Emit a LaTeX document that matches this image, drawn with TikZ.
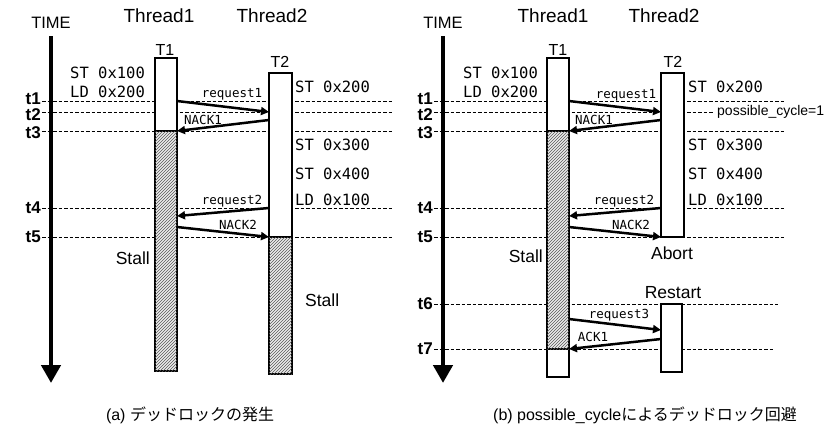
\documentclass[tikz,border=0pt]{standalone}
\usepackage{fontspec}
\setmainfont{Liberation Sans}
\setmonofont{DejaVu Sans Mono}
\newfontfamily\cjk{Noto Sans CJK JP}
\usetikzlibrary{arrows.meta,patterns,backgrounds}
\tikzset{
  tline/.style={line width=1pt, dash pattern=on 3.5pt off 2pt},
  msg/.style={line width=2.5pt, -{Triangle[length=8pt,width=8pt]}},
  lane/.style={draw, line width=1.6pt, fill=white, outer sep=0pt, inner sep=0pt},
  hatchbox/.style={draw, line width=1.6pt, fill=gray!15, postaction={pattern=north east lines, pattern color=black!65}},
  timearrow/.style={line width=4.5pt, -{Triangle[length=18pt,width=19pt]}},
  tlab/.style={anchor=east, inner sep=0pt, font=\fontsize{17}{17}\bfseries\selectfont},
  headtext/.style={inner sep=0pt, font=\fontsize{19}{19}\selectfont},
  timelab/.style={inner sep=0pt, font=\fontsize{16.5}{17}\selectfont},
  lanelab/.style={inner sep=0pt, font=\fontsize{16}{16}\selectfont},
  codetext/.style={anchor=west, inner sep=0pt, font=\fontsize{15.5}{16}\ttfamily\selectfont},
  msglab/.style={inner sep=0pt, font=\fontsize{12.5}{13}\ttfamily\selectfont},
  notetext/.style={inner sep=0pt, font=\fontsize{17.5}{18}\selectfont},
  smalltext/.style={inner sep=0pt, font=\fontsize{14}{14}\selectfont},
  captext/.style={inner sep=0pt, font=\fontsize{16}{16}\selectfont}
}
\begin{document}
\begin{tikzpicture}[x=1pt,y=-1pt]
\useasboundingbox (0,0) rectangle (832,426);

%================ panel (a) ================
\node[timelab] (aTime) at (51,22.5) {TIME};
\node[headtext] (aTh1) at (159,16) {Thread1};
\node[headtext] (aTh2) at (272,16) {Thread2};
\coordinate (aTimeTop) at (51,36);
\coordinate (aTimeBot) at (51,383);
\draw[timearrow] (aTimeTop) -- (aTimeBot);

\node[tlab] (at1) at (41,99) {t1};
\node[tlab] (at2) at (41,114.5) {t2};
\node[tlab] (at3) at (41,133) {t3};
\node[tlab] (at4) at (41,208) {t4};
\node[tlab] (at5) at (41,237) {t5};
\coordinate (aY1) at (0,101);
\coordinate (aY2) at (0,112);
\coordinate (aY3) at (0,131);
\coordinate (aY4) at (0,208);
\coordinate (aY5) at (0,237);
\coordinate (aL) at (42,0);
\coordinate (aR) at (393,0);
\foreach \y in {aY1,aY2,aY3,aY4,aY5}
  \draw[tline] (aL |- \y) -- (aR |- \y);

\node[lanelab] (aT1l) at (165,50) {T1};
\node[lanelab] (aT2l) at (280,62) {T2};
\node[lane, minimum width=22pt, minimum height=313pt] (aT1) at (166,214.5) {};
\node[lane, minimum width=23pt, minimum height=301pt] (aT2) at (280.5,223.5) {};
\draw[hatchbox] (aT1.west |- aY3) rectangle (aT1.south east);
\draw[hatchbox] (aT2.west |- aY5) rectangle (aT2.south east);

\node[codetext] (ac1) at (70,72.5) {ST 0x100};
\node[codetext] (ac2) at (70,92) {LD 0x200};
\node[codetext] (ac3) at (295,87) {ST 0x200};
\node[codetext] (ac4) at (295,145) {ST 0x300};
\node[codetext] (ac5) at (295,174) {ST 0x400};
\node[codetext] (ac6) at (295,200) {LD 0x100};

\coordinate (aN1s) at (269,120);
\coordinate (aR2e) at (177,216);
\coordinate (aN2s) at (177,227);
\draw[msg] (aT1.east |- aY1) -- (aT2.west |- aY2);
\draw[msg] (aN1s) -- (aT1.east |- aY3);
\draw[msg] (aT2.west |- aY4) -- (aR2e);
\draw[msg] (aN2s) -- (aT2.west |- aY5);
\node[msglab] (am1) at (232,94) {request1};
\node[msglab] (am2) at (203,120) {NACK1};
\node[msglab] (am3) at (232,201) {request2};
\node[msglab] (am4) at (238,225) {NACK2};

\node[notetext, anchor=east] (aSt1) at (150,258) {Stall};
\node[notetext, anchor=west] (aSt2) at (305,300) {Stall};

\node[captext] (aCap) at (190,415) {(a) {\cjk デッドロックの発生}};

%================ panel (b) ================
\node[timelab] (bTime) at (443,22.5) {TIME};
\node[headtext] (bTh1) at (553,16) {Thread1};
\node[headtext] (bTh2) at (664,16) {Thread2};
\coordinate (bTimeTop) at (443,36);
\coordinate (bTimeBot) at (443,383);
\draw[timearrow] (bTimeTop) -- (bTimeBot);

\node[tlab] (bt1) at (433,99) {t1};
\node[tlab] (bt2) at (433,114.5) {t2};
\node[tlab] (bt3) at (433,133) {t3};
\node[tlab] (bt4) at (433,208) {t4};
\node[tlab] (bt5) at (433,237) {t5};
\node[tlab] (bt6) at (433,304) {t6};
\node[tlab] (bt7) at (433,349) {t7};
\coordinate (bY1) at (0,101);
\coordinate (bY2) at (0,112);
\coordinate (bY3) at (0,131);
\coordinate (bY4) at (0,208);
\coordinate (bY5) at (0,237);
\coordinate (bY6) at (0,304);
\coordinate (bY7) at (0,349);
\coordinate (bL) at (434,0);
\coordinate (bR) at (785,0);
\coordinate (bR2) at (713,0);
\coordinate (bR6) at (778,0);
\coordinate (bR7) at (773,0);
\foreach \y in {bY1,bY3,bY4,bY5}
  \draw[tline] (bL |- \y) -- (bR |- \y);
\draw[tline] (bL |- bY2) -- (bR2 |- bY2);
\draw[tline] (bL |- bY6) -- (bR6 |- bY6);
\draw[tline] (bL |- bY7) -- (bR7 |- bY7);
\node[smalltext, anchor=west] (bpc) at (717,112) {possible\_cycle=1};

\node[lanelab] (bT1l) at (558,50) {T1};
\node[lanelab] (bT2l) at (673,62) {T2};
\node[lane, minimum width=22pt, minimum height=319pt] (bT1) at (558,217.5) {};
\node[lane, minimum width=23pt, minimum height=164pt] (bT2) at (672.5,155) {};
\node[lane, minimum width=21pt, minimum height=68pt] (bT3) at (671.5,338) {};
\draw[hatchbox] (bT1.west |- bY3) rectangle (bT1.east |- bY7);

\node[codetext] (bc1) at (463,72.5) {ST 0x100};
\node[codetext] (bc2) at (463,92) {LD 0x200};
\node[codetext] (bc3) at (688,87) {ST 0x200};
\node[codetext] (bc4) at (688,145) {ST 0x300};
\node[codetext] (bc5) at (688,174) {ST 0x400};
\node[codetext] (bc6) at (688,200) {LD 0x100};

\coordinate (bN1s) at (661,120);
\coordinate (bR2e) at (569,216);
\coordinate (bN2s) at (569,227);
\coordinate (bR3s) at (569,319);
\coordinate (bR3e) at (661,330);
\coordinate (bA1s) at (661,339);
\draw[msg] (bT1.east |- bY1) -- (bT2.west |- bY2);
\draw[msg] (bN1s) -- (bT1.east |- bY3);
\draw[msg] (bT2.west |- bY4) -- (bR2e);
\draw[msg] (bN2s) -- (bT2.west |- bY5);
\draw[msg] (bR3s) -- (bR3e);
\draw[msg] (bA1s) -- (bT1.east |- bY7);
\node[msglab] (bm1) at (626,95) {request1};
\node[msglab] (bm2) at (594,120) {NACK1};
\node[msglab] (bm3) at (624,201) {request2};
\node[msglab] (bm4) at (631,225) {NACK2};
\node[msglab] (bm5) at (619,315) {request3};
\node[msglab] (bm6) at (593,337) {ACK1};

\node[notetext, anchor=east] (bSt1) at (543,256) {Stall};
\node[notetext] (bAb) at (672,253) {Abort};
\node[notetext] (bRs) at (673,293) {Restart};

\node[captext] (bCap) at (645,415) {(b) possible\_cycle{\cjk によるデッドロック回避}};
\end{tikzpicture}
\end{document}
